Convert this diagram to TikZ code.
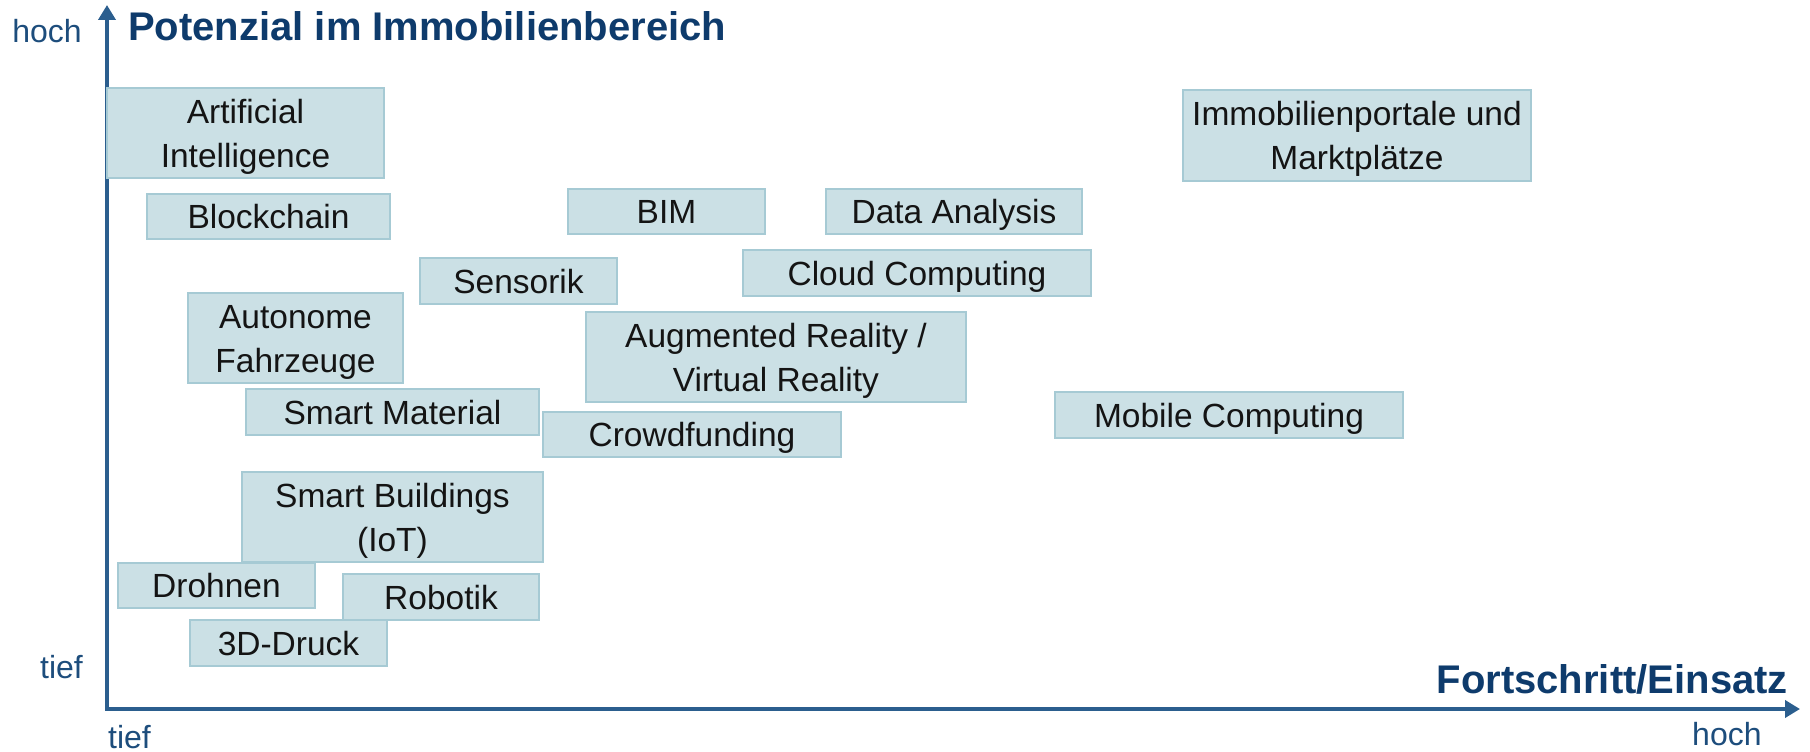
\documentclass[tikz,border=0pt]{standalone}
\usepackage{fontspec}
\setmainfont{Liberation Sans}
\usetikzlibrary{arrows.meta}
\definecolor{axiscol}{HTML}{2B5E8E}
\definecolor{titlecol}{HTML}{0E3B6C}
\definecolor{labcol}{HTML}{1D4D7C}
\definecolor{boxfill}{HTML}{CBE0E5}
\definecolor{boxline}{HTML}{A6CAD4}
\newcommand\bx[1]{\smash{#1}}
\newcommand\tb[6]{%
  \node[tbox, minimum width={(#4-#2)*1pt}, minimum height={(#5-#3)*1pt}] (#1) at ({(#2+#4)/2},{(#3+#5)/2}) {};
  \node[tlbl] (#1-t) at (#1.center) {#6};
}
\begin{document}
\begin{tikzpicture}[x=1pt,y=-1pt,
  tbox/.style={draw=boxline, fill=boxfill, line width=2pt, inner sep=0pt, outer sep=0pt},
  tlbl/.style={font=\fontsize{33.5}{44}\selectfont, text=black!92, align=center, inner sep=0pt, yshift=-12pt},
  axis/.style={draw=axiscol, line width=4pt, {Triangle[length=15pt,width=17pt]}-{Triangle[length=15pt,width=17pt]}},
  ttl/.style={font=\fontsize{40}{48}\selectfont\bfseries, text=titlecol, inner sep=0pt},
  axl/.style={font=\fontsize{32}{38}\selectfont, text=labcol, inner sep=0pt}]
\useasboundingbox (0,0) rectangle (1810,752);
\coordinate (o) at (107,709);
\coordinate (ytip) at (107,5);
\coordinate (xtip) at (1800,709);
\draw[axis] (ytip) -- (o) -- (xtip);
\node[ttl, anchor=base west] (title) at (128,41) {Potenzial im Immobilienbereich};
\node[ttl, anchor=base east] (xtitle) at (1788,693) {Fortschritt/Einsatz};
\node[axl, anchor=base east] (yhoch) at (82,43) {hoch};
\node[axl, anchor=base east] (ytief) at (83,678) {tief};
\node[axl, anchor=base west] (xtief) at (108,748) {tief};
\node[axl, anchor=base west] (xhoch) at (1692,745) {hoch};
\tb{ai}{107}{88}{384}{178}{\bx{Artificial}\\\bx{Intelligence}}
\tb{blockchain}{147}{194}{390}{239}{\bx{Blockchain}}
\tb{bim}{568}{189}{765}{234}{\bx{BIM}}
\tb{data}{826}{189}{1082}{234}{\bx{Data Analysis}}
\tb{portale}{1183}{90}{1531}{181}{\bx{Immobilienportale und}\\\bx{Marktplätze}}
\tb{sensorik}{420}{258}{617}{304}{\bx{Sensorik}}
\tb{cloud}{743}{250}{1091}{296}{\bx{Cloud Computing}}
\tb{auto}{188}{293}{403}{383}{\bx{Autonome}\\\bx{Fahrzeuge}}
\tb{arvr}{586}{312}{966}{402}{\bx{Augmented Reality /}\\\bx{Virtual Reality}}
\tb{material}{246}{389}{539}{435}{\bx{Smart Material}}
\tb{crowd}{543}{412}{841}{457}{\bx{Crowdfunding}}
\tb{mobile}{1055}{392}{1403}{438}{\bx{Mobile Computing}}
\tb{buildings}{242}{472}{543}{562}{\bx{Smart Buildings}\\\bx{(IoT)}}
\tb{drohnen}{118}{563}{315}{608}{\bx{Drohnen}}
\tb{robotik}{343}{574}{539}{620}{\bx{Robotik}}
\tb{druck}{190}{620}{387}{666}{\bx{3D-Druck}}
\end{tikzpicture}
\end{document}
